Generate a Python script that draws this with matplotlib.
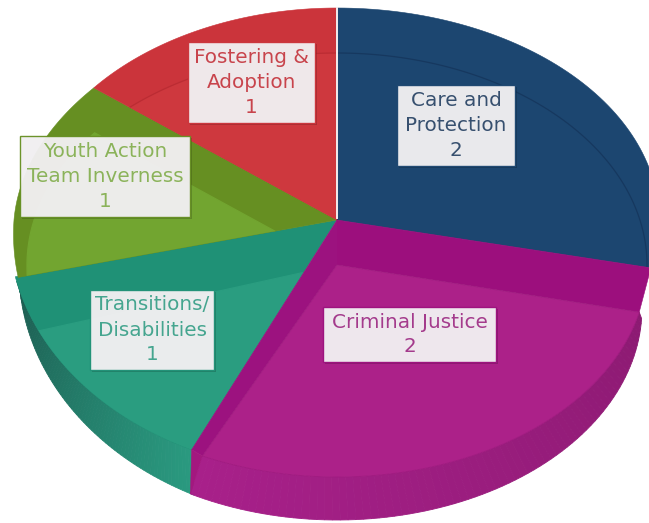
"""3D style pie of referrals by team."""

import numpy as np
import matplotlib
matplotlib.use("Agg")
import matplotlib.pyplot as plt
from matplotlib.colors import to_rgb
from matplotlib.patches import Polygon, Rectangle

# data, clockwise from twelve o'clock
categories = ["Care and\nProtection", "Criminal Justice", "Transitions/\nDisabilities",
              "Youth Action\nTeam Inverness", "Fostering &\nAdoption"]
values = [2, 2, 1, 1, 1]

# drawing styles
face_dark = ["#1c4670", "#9c0f7d", "#1f9176", "#668f22", "#cb343b"]
face_light = ["#1c4670", "#ac2189", "#2a9d80", "#72a530", "#ce383e"]
overlay_line = ["#16385f", "#c0429f", "#2a9d80", "#72a530", "#bb2c33"]
text_colors = ["#37506f", "#a43b8c", "#45a58f", "#8bb35a", "#c8444c"]
box_xy = [(397, 85, 118, 81), (323, 307, 173, 55), (90, 290, 124, 80),
          (20, 136, 170, 81), (188, 42, 127, 81)]
# edge width of each slice at its start and end angle, and its front depth
slice_rx = [(322, 322), (310, 310), (335, 330), (327, 311), (311, 310)]
slice_ry_dn = [215, 212, 255, 258, 258]

CX, CY = 337, 220
DROP = 45


def rim(a0, a1, cy=CY, rx=323, ry_up=212, ry_dn=258, n=80):
    """Points on the squashed pie edge, angles in degrees clockwise from top."""
    t = np.radians(np.linspace(a0, a1, n))
    c = np.cos(t)
    ry = np.where(c > 0, ry_up, ry_dn)
    if isinstance(rx, tuple):
        rx = np.linspace(rx[0], rx[1], n)
    return np.column_stack([CX + rx * np.sin(t), cy - ry * c])


def wall(ax, top, bottom, c0, c1):
    """Side wall shaded from colour c0 to colour c1."""
    c0, c1 = np.array(to_rgb(c0)), np.array(to_rgb(c1))
    for i in range(len(top) - 1):
        col = c0 + (c1 - c0) * i / (len(top) - 2)
        ax.add_patch(Polygon([top[i], top[i + 1], bottom[i + 1], bottom[i]],
                             fc=col, ec=col, lw=0.6, zorder=2))


fig = plt.figure(figsize=(6.49, 5.23), dpi=100)
ax = fig.add_axes([0, 0, 1, 1])
ax.set_xlim(0, 649)
ax.set_ylim(523, 0)
ax.axis("off")

edges = np.cumsum([0] + values) / sum(values) * 360
apex = (CX, CY)
low_apex = (CX, CY + DROP)

# outer walls of the two front slices
a_cj0, a_cj1 = edges[1], edges[2]
wall(ax, rim(a_cj1, edges[3] - 1, rx=slice_rx[2], ry_dn=slice_ry_dn[2]),
     rim(a_cj1 + 1, edges[3] + 10, cy=270, rx=318, ry_dn=252),
     "#2a9a80", "#1c5a4f")
wall(ax, rim(a_cj0, a_cj1, cy=CY + DROP, rx=310, ry_dn=212),
     rim(a_cj0 - 10, a_cj1 + 3, cy=CY + 88, rx=305, ry_dn=212),
     "#8c1a72", "#a8208a")

for i, (a0, a1) in enumerate(zip(edges[:-1], edges[1:])):
    if i == 1:
        continue
    pts = np.vstack([[apex], rim(a0, a1, rx=slice_rx[i], ry_dn=slice_ry_dn[i])])
    ax.add_patch(Polygon(pts, fc=face_dark[i], ec=face_dark[i], lw=0.4, zorder=3))
    clip = Polygon(pts, transform=ax.transData)
    # lowered copy of the wedge gives the bevel look
    low = np.vstack([[low_apex], rim(a0, a1, cy=CY + DROP, rx=310, ry_dn=300)])
    over = Polygon(low, fc=face_light[i], ec=overlay_line[i], lw=0.9, zorder=4)
    ax.add_patch(over)
    over.set_clip_path(clip)

# sunken criminal justice slice: inner walls and then its face
pa0 = rim(a_cj0, a_cj0, rx=slice_rx[0], ry_dn=slice_ry_dn[0], n=1)[0]
pa1 = rim(a_cj1, a_cj1, rx=slice_rx[2], ry_dn=slice_ry_dn[2], n=1)[0]
low_rim = rim(a_cj0, a_cj1, cy=CY + DROP, rx=310, ry_dn=212)
ax.add_patch(Polygon([apex, pa0, low_rim[0], low_apex], fc="#9c0f7d", ec="#9c0f7d",
                     lw=0.4, zorder=5))
ax.add_patch(Polygon([apex, pa1, low_rim[-1], low_apex], fc="#9c127f", ec="#9c127f",
                     lw=0.4, zorder=5))
ax.add_patch(Polygon([pa1, low_rim[-1], rim(a_cj1 + 3, a_cj1 + 3, cy=CY + 88, rx=305, ry_dn=212, n=1)[0]],
                     fc="#a3187f", ec="#a3187f", lw=0.4, zorder=5))
ax.add_patch(Polygon(np.vstack([[low_apex], low_rim]), fc=face_light[1], ec="#a01a80",
                     lw=0.6, zorder=6))

# white gap between first and last slice
ax.plot([CX, CX], [8, CY - 2], color="#f4eeee", lw=1.4, zorder=7)

for name, val, col, (x, y, w, h), edge in zip(categories, values, text_colors, box_xy, face_dark):
    ax.add_patch(Rectangle((x + 1.5, y + 2), w, h, fc="black", alpha=0.18, lw=0, zorder=8))
    ax.add_patch(Rectangle((x, y), w, h, fc="#f3f1f3", ec=edge, lw=1, alpha=0.96, zorder=9))
    ax.text(x + w / 2, y + h / 2, f"{name}\n{val}", color=col, ha="center", va="center",
            fontsize=14.4, linespacing=1.4, family="DejaVu Sans", zorder=10)

fig.savefig("out.png", dpi=100)
